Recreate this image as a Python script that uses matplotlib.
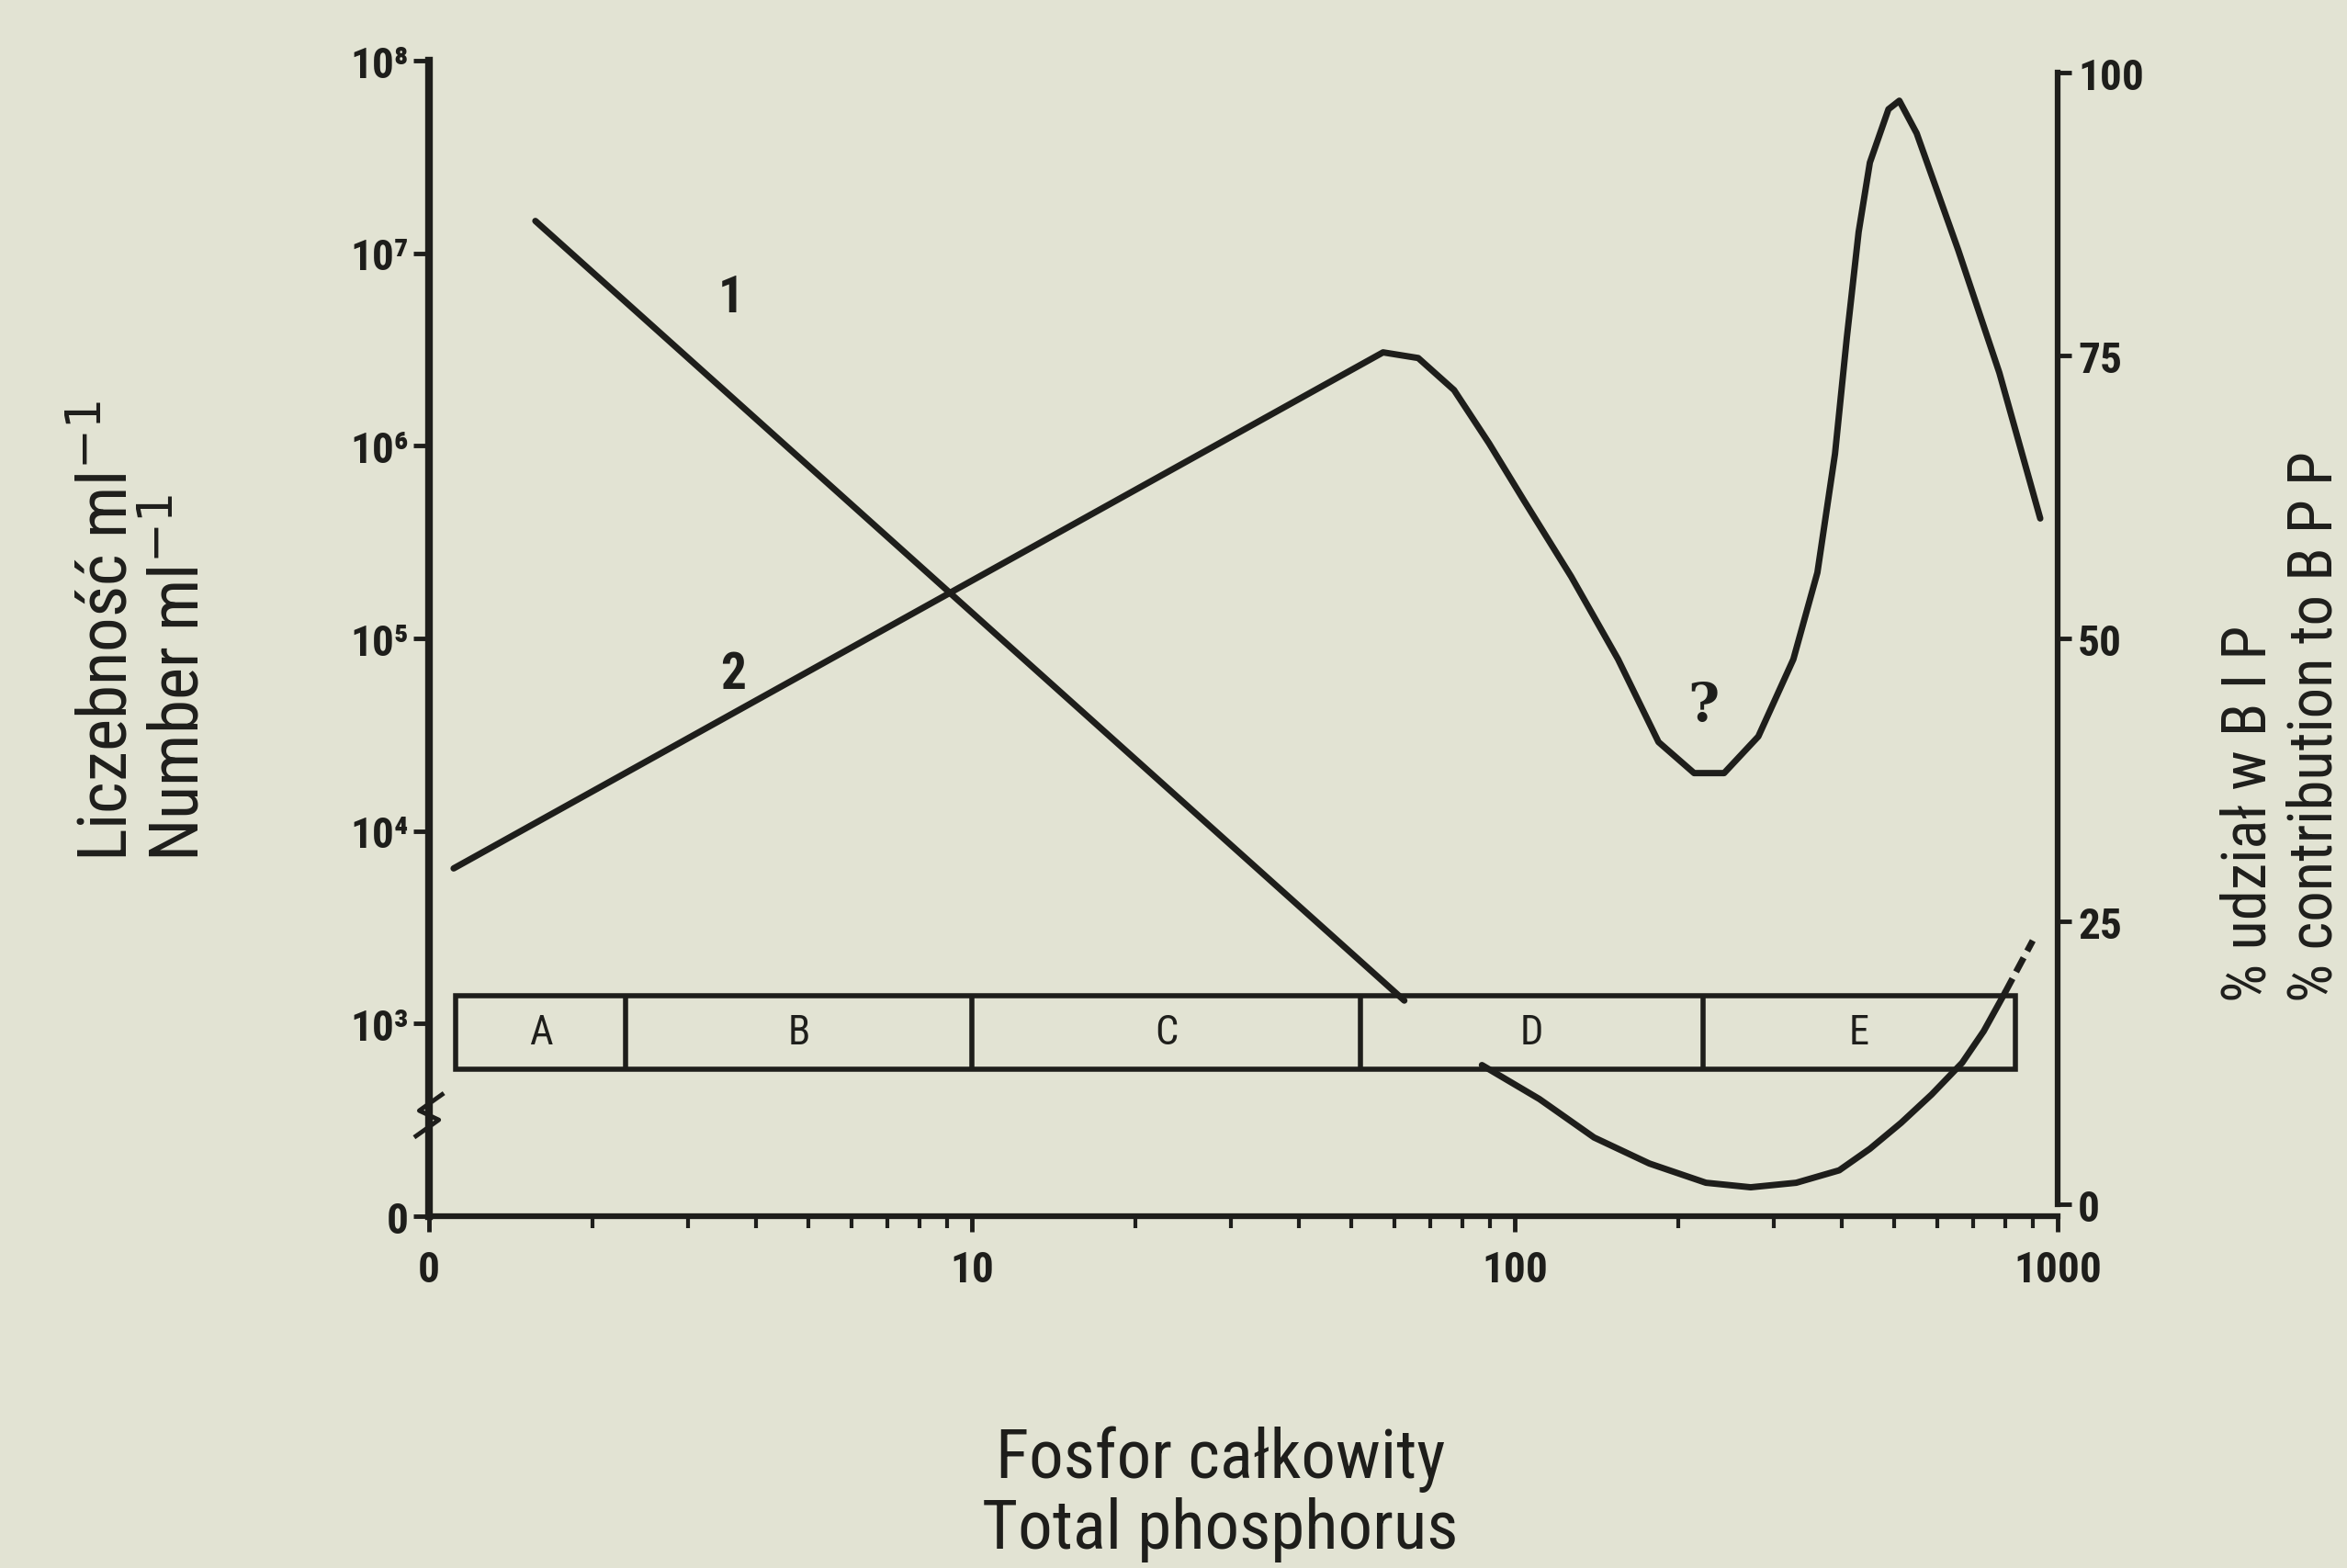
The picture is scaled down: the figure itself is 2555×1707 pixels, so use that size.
import numpy as np
import matplotlib
matplotlib.use('Agg')
import matplotlib.pyplot as plt
from matplotlib import font_manager as fm
from matplotlib.ticker import NullLocator, NullFormatter, LogLocator
from matplotlib.patches import Rectangle

nan = float('nan')

# curve 1 - % contribution (right axis); gap where it runs behind box D
tp_1 = [1.57, 62.6, nan, 87, 111, 140, 177, 225, 272, 330, 396, 451, 515, 586, 667, 731, 800]
pct_1 = [86.9, 18.0, nan, 12.3, 9.3, 5.9, 3.6, 1.9, 1.5, 1.9, 3.0, 4.9, 7.2, 9.7, 12.5, 15.3, 18.7]
# dashed end of curve 1
tp_1_tail = [800, 842, 900]
pct_1_tail = [18.7, 20.7, 23.3]

# curve 2 - number per ml (left axis)
tp_2 = [1.11, 57.2, 66.4, 77.3, 89.7, 104, 127, 155, 184, 214, 243, 281, 326,
        361, 389, 409, 430, 451, 488, 511, 550, 656, 781, 929]
num_2 = [6.4e3, 3.06e6, 2.86e6, 1.95e6, 1.03e6, 5.2e5, 2.1e5, 7.8e4, 2.9e4, 2.0e4,
         2.0e4, 3.1e4, 7.8e4, 2.2e5, 9.1e5, 3.65e6, 1.29e7, 2.96e7, 5.6e7, 6.2e7,
         4.2e7, 1.04e7, 2.4e6, 4.2e5]

# trophic zones
zone_edges = [1.12, 2.3, 10, 52, 222, 836]
zone_names = ['A', 'B', 'C', 'D', 'E']

x_ticks = [1, 10, 100, 1000]
x_labels = ['0', '10', '100', '1000']
left_ticks = [1e2, 1e3, 1e4, 1e5, 1e6, 1e7, 1e8]
left_labels = ['0', '10³', '10⁴', '10⁵', '10⁶', '10⁷', '10⁸']
right_ticks = [0, 25, 50, 75, 100]

bg = '#e2e3d3'
ink = '#1e1e1b'

# a narrow face is closer to the original lettering, if one is installed
avail = {f.name for f in fm.fontManager.ttflist}
narrow = next((n for n in ['Roboto Condensed', 'Liberation Sans Narrow',
                           'Open Sans Condensed'] if n in avail), None)
if narrow:
    face, tick_fs, lab_fs = [narrow, 'DejaVu Sans'], 34, 54
else:
    face, tick_fs, lab_fs = ['DejaVu Sans'], 29, 49
plt.rcParams['font.family'] = face

fig = plt.figure(figsize=(25.55, 17.08), dpi=100, facecolor=bg)
ax = fig.add_axes([0.1828, 0.2242, 0.6939, 0.7365])
ax.set_facecolor(bg)
ax.set_xscale('log')
ax.set_yscale('log')
ax.set_xlim(1, 1000)
ax.set_ylim(1e2, 1e8)

ax2 = ax.twinx()
ax2.set_ylim(-1.06, 101.06)

for s in ['top', 'right']:
    ax.spines[s].set_visible(False)
for s in ['top', 'left', 'bottom']:
    ax2.spines[s].set_visible(False)
ax.spines['left'].set_linewidth(6)
ax.spines['bottom'].set_linewidth(4.5)
ax2.spines['right'].set_linewidth(4.5)
ax2.spines['right'].set_bounds(0, 100)
for sp in list(ax.spines.values()) + list(ax2.spines.values()):
    sp.set_color(ink)

# ticks
ax.set_xticks(x_ticks)
ax.set_xticklabels(x_labels)
ax.xaxis.set_minor_locator(LogLocator(base=10, subs=np.arange(2, 10)))
ax.xaxis.set_minor_formatter(NullFormatter())
ax.set_yticks(left_ticks)
ax.set_yticklabels(left_labels)
ax.yaxis.set_minor_locator(NullLocator())
ax2.set_yticks(right_ticks)
ax2.set_yticklabels([str(t) for t in right_ticks])

ax.tick_params(axis='x', which='major', direction='out', length=12, width=3.5,
               pad=14, labelsize=tick_fs, colors=ink)
ax.tick_params(axis='x', which='minor', direction='out', length=9, width=3, colors=ink)
ax.tick_params(axis='y', which='major', direction='out', length=12, width=3.5,
               pad=4, labelsize=tick_fs, colors=ink)
ax2.tick_params(axis='y', direction='out', length=11, width=3.5, pad=5,
                labelsize=tick_fs, colors=ink)
for lab in ax.get_xticklabels() + ax.get_yticklabels() + ax2.get_yticklabels():
    lab.set_fontweight('bold')

# axis break on the left spine
yb = 0.0874
ax.plot([0.008, -0.006, 0.006, -0.008], [yb + 0.018, yb + 0.004, yb - 0.004, yb - 0.018],
        transform=ax.transAxes, color=ink, lw=3.5, clip_on=False, zorder=5)

# curves
ax.plot(tp_2, num_2, color=ink, lw=5, solid_capstyle='round', solid_joinstyle='round')
ax2.plot(tp_1, pct_1, color=ink, lw=5, solid_capstyle='round', solid_joinstyle='round')
ax2.plot(tp_1_tail, pct_1_tail, color=ink, lw=5, ls=(0, (2.5, 1.2)))

ax.text(3.6, 5.9e6, '1', fontsize=40, fontweight='bold', color=ink, ha='center', va='center')
ax.text(3.63, 6.5e4, '2', fontsize=40, fontweight='bold', color=ink, ha='center', va='center')
ax.text(223, 4.5e4, '?', fontsize=42, fontweight='bold', family='DejaVu Serif',
        color=ink, ha='center', va='center')

# zone boxes
xt = ax.get_xaxis_transform()
box_lo, box_hi = 0.127, 0.191
ax.add_patch(Rectangle((zone_edges[0], box_lo), zone_edges[-1] - zone_edges[0],
                       box_hi - box_lo, transform=xt, fill=False,
                       edgecolor=ink, lw=4, zorder=4))
ax.vlines(zone_edges[1:-1], box_lo, box_hi, transform=xt, color=ink, lw=4, zorder=4)
for i, name in enumerate(zone_names):
    xc = np.sqrt(zone_edges[i] * zone_edges[i + 1])
    ax.text(xc, (box_lo + box_hi) / 2, name, transform=xt, fontsize=32,
            color=ink, ha='center', va='center')

# axis titles
fig.text(0.52, 0.0697, 'Fosfor całkowity', fontsize=lab_fs, color=ink, ha='center', va='center')
fig.text(0.52, 0.004, 'Total phosphorus', fontsize=lab_fs, color=ink, ha='center', va='bottom')
fig.text(0.046, 0.4508, 'Liczebność ml$^{-1}$', fontsize=lab_fs, color=ink,
         rotation=90, ha='center', va='bottom')
fig.text(0.0765, 0.4508, 'Number ml$^{-1}$', fontsize=lab_fs, color=ink,
         rotation=90, ha='center', va='bottom')
fig.text(0.9585, 0.3612, '% udział w B I P', fontsize=lab_fs - 6, color=ink,
         rotation=90, ha='center', va='bottom')
fig.text(0.9865, 0.3612, '% contribution to B P P', fontsize=lab_fs - 6, color=ink,
         rotation=90, ha='center', va='bottom')

fig.savefig('out.png', dpi=100, facecolor=bg)
